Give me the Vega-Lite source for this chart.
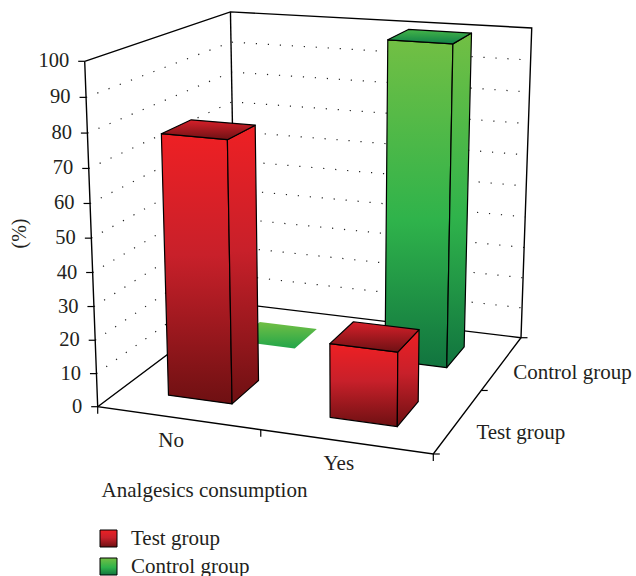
{
  "$schema": "https://vega.github.io/schema/vega-lite/v6.json",
  "width": 636,
  "height": 576,
  "padding": 0,
  "autosize": {"type": "none"},
  "background": "white",
  "config": {"view": {"stroke": null}, "text": {"font": "Liberation Serif", "fontSize": 21, "color": "#231f20"}},
  "datasets": {
    "bars": [
      {"category": "No", "group": "Test group", "value": 78},
      {"category": "No", "group": "Control group", "value": 0},
      {"category": "Yes", "group": "Test group", "value": 22},
      {"category": "Yes", "group": "Control group", "value": 100}
    ],
    "walls": [
      {"path": "outer", "seq": 0, "u": 0, "v": 0, "pct": 100},
      {"path": "outer", "seq": 1, "u": 0, "v": 0, "pct": 0},
      {"path": "outer", "seq": 2, "u": 1, "v": 0, "pct": 0},
      {"path": "outer", "seq": 3, "u": 1, "v": 1, "pct": 0},
      {"path": "outer", "seq": 4, "u": 1, "v": 1, "pct": 100},
      {"path": "outer", "seq": 5, "u": 0, "v": 1, "pct": 100},
      {"path": "outer", "seq": 6, "u": 0, "v": 0, "pct": 100},
      {"path": "floor", "seq": 0, "u": 0, "v": 0, "pct": 0},
      {"path": "floor", "seq": 1, "u": 0, "v": 1, "pct": 0},
      {"path": "floor", "seq": 2, "u": 1, "v": 1, "pct": 0},
      {"path": "corner", "seq": 0, "u": 0, "v": 1, "pct": 0},
      {"path": "corner", "seq": 1, "u": 0, "v": 1, "pct": 100}
    ],
    "ticks": [
      {"axis": "percent", "at": 0, "label": "0"},
      {"axis": "percent", "at": 10, "label": "10"},
      {"axis": "percent", "at": 20, "label": "20"},
      {"axis": "percent", "at": 30, "label": "30"},
      {"axis": "percent", "at": 40, "label": "40"},
      {"axis": "percent", "at": 50, "label": "50"},
      {"axis": "percent", "at": 60, "label": "60"},
      {"axis": "percent", "at": 70, "label": "70"},
      {"axis": "percent", "at": 80, "label": "80"},
      {"axis": "percent", "at": 90, "label": "90"},
      {"axis": "percent", "at": 100, "label": "100"},
      {"axis": "category", "at": 0},
      {"axis": "category", "at": 0.5},
      {"axis": "category", "at": 1},
      {"axis": "depth", "at": 0},
      {"axis": "depth", "at": 0.5},
      {"axis": "depth", "at": 1},
      {"axis": "categoryName", "at": 0.25, "label": "No"},
      {"axis": "categoryName", "at": 0.75, "label": "Yes"},
      {"axis": "depthName", "at": 0.25, "label": "Test group"},
      {"axis": "depthName", "at": 0.75, "label": "Control group"}
    ]
  },
  "encoding": {
    "x": {
      "field": "px", "type": "quantitative",
      "scale": {"domain": [0, 636], "nice": false, "zero": false},
      "axis": {
        "orient": "bottom", "title": "Analgesics consumption", "labels": false, "ticks": false, "domain": false, "grid": false,
        "titleFont": "Liberation Serif", "titleFontSize": 21, "titleFontWeight": "normal", "titleColor": "#231f20",
        "titleX": 204, "titleY": -86, "titleBaseline": "middle", "titleAlign": "center"
      }
    },
    "y": {
      "field": "py", "type": "quantitative",
      "scale": {"domain": [0, 576], "reverse": true, "nice": false, "zero": false},
      "axis": {
        "orient": "left", "title": "(%)", "labels": false, "ticks": false, "domain": false, "grid": false,
        "titleFont": "Liberation Serif", "titleFontSize": 20, "titleFontWeight": "normal", "titleColor": "#231f20",
        "titleAngle": 270, "titleX": 19, "titleY": 233, "titleBaseline": "middle", "titleAlign": "center"
      }
    }
  },
  "layer": [
    {
      "data": {"name": "ticks"},
      "transform": [
        {"filter": "datum.axis === 'percent' && datum.at > 0 && datum.at < 100"},
        {"calculate": "[0, 1, 2]", "as": "corner"},
        {"flatten": ["corner"]},
        {"calculate": "datum.corner === 2 ? 1 : 0", "as": "u"},
        {"calculate": "datum.corner === 0 ? 0 : 1", "as": "v"},
        {"calculate": "datum.at / 100", "as": "h"},
        {"calculate": "1 - 0.05492 * datum.u + 0.19277 * datum.v - 0.047 * datum.h", "as": "w"},
        {"calculate": "(97.7 + 311.8 * datum.u + 183.32 * datum.v - 16.98 * datum.h + 4.2 * datum.u * datum.v * datum.h) / datum.w", "as": "px"},
        {"calculate": "(406.7 + 22.37 * datum.u - 44.81 * datum.v - 348.28 * datum.h - 5.5 * datum.u * datum.v * datum.h) / datum.w", "as": "py"}
      ],
      "mark": {"type": "line", "stroke": "#222222", "strokeWidth": 1.2, "strokeDash": [1.2, 10.8]},
      "encoding": {"detail": {"field": "at"}, "order": {"field": "corner"}}
    },
    {
      "data": {"name": "walls"},
      "transform": [
        {"calculate": "datum.pct / 100", "as": "h"},
        {"calculate": "1 - 0.05492 * datum.u + 0.19277 * datum.v - 0.047 * datum.h", "as": "w"},
        {"calculate": "(97.7 + 311.8 * datum.u + 183.32 * datum.v - 16.98 * datum.h + 4.2 * datum.u * datum.v * datum.h) / datum.w", "as": "px"},
        {"calculate": "(406.7 + 22.37 * datum.u - 44.81 * datum.v - 348.28 * datum.h - 5.5 * datum.u * datum.v * datum.h) / datum.w", "as": "py"}
      ],
      "mark": {"type": "line", "stroke": "#000000", "strokeWidth": 1.4},
      "encoding": {"detail": {"field": "path"}, "order": {"field": "seq"}}
    },
    {
      "data": {"name": "ticks"},
      "transform": [
        {"calculate": "datum.axis === 'percent' ? 0 : datum.axis === 'category' || datum.axis === 'categoryName' ? datum.at : 1", "as": "u"},
        {"calculate": "datum.axis === 'depth' || datum.axis === 'depthName' ? datum.at : 0", "as": "v"},
        {"calculate": "datum.axis === 'percent' ? datum.at / 100 : 0", "as": "h"},
        {"calculate": "1 - 0.05492 * datum.u + 0.19277 * datum.v - 0.047 * datum.h", "as": "w"},
        {"calculate": "(97.7 + 311.8 * datum.u + 183.32 * datum.v - 16.98 * datum.h + 4.2 * datum.u * datum.v * datum.h) / datum.w", "as": "px"},
        {"calculate": "(406.7 + 22.37 * datum.u - 44.81 * datum.v - 348.28 * datum.h - 5.5 * datum.u * datum.v * datum.h) / datum.w", "as": "py"},
        {"calculate": "datum.px + (datum.axis === 'percent' ? -6.5 : datum.axis === 'depth' ? 6.5 : 0)", "as": "px2"},
        {"calculate": "datum.py + (datum.axis === 'category' ? 7 : 0)", "as": "py2"}
      ],
      "layer": [
        {
          "transform": [{"filter": "datum.axis === 'percent' || datum.axis === 'category' || datum.axis === 'depth'"}],
          "mark": {"type": "rule", "stroke": "#000000", "strokeWidth": 1.2},
          "encoding": {"x2": {"field": "px2"}, "y2": {"field": "py2"}}
        },
        {
          "transform": [{"filter": "datum.axis === 'percent'"}],
          "mark": {"type": "text", "align": "right", "baseline": "middle", "dx": -15.5, "fontSize": 20.5},
          "encoding": {"text": {"field": "label"}}
        },
        {
          "transform": [{"filter": "datum.axis === 'categoryName'"}],
          "mark": {"type": "text", "align": "center", "baseline": "middle", "dx": -7, "dy": 22.5},
          "encoding": {"text": {"field": "label"}}
        },
        {
          "transform": [{"filter": "datum.label === 'Test group'"}],
          "mark": {"type": "text", "align": "left", "baseline": "middle", "dx": 18, "dy": 12.6},
          "encoding": {"text": {"field": "label"}}
        },
        {
          "transform": [{"filter": "datum.label === 'Control group'"}],
          "mark": {"type": "text", "align": "left", "baseline": "middle", "dx": 11.3, "dy": 9.8},
          "encoding": {"text": {"field": "label"}}
        }
      ]
    },
    {
      "data": {"name": "bars"},
      "transform": [
        {"calculate": "datum.category === 'No' ? 0 : 1", "as": "i"},
        {"calculate": "datum.group === 'Test group' ? 0 : 1", "as": "j"},
        {"calculate": "['front', 'side', 'top']", "as": "face"},
        {"flatten": ["face"]},
        {"calculate": "[0, 1, 2, 3]", "as": "corner"},
        {"flatten": ["corner"]},
        {"calculate": "(datum.i + 0.3) / 2", "as": "u0"},
        {"calculate": "(datum.i + 0.7) / 2", "as": "u1"},
        {"calculate": "(datum.j + 0.3) / 2", "as": "v0"},
        {"calculate": "(datum.j + 0.7) / 2", "as": "v1"},
        {"calculate": "datum.face === 'side' || datum.corner === 1 || datum.corner === 2 ? datum.u1 : datum.u0", "as": "u"},
        {"calculate": "datum.face === 'front' ? datum.v0 : datum.face === 'side' ? (datum.corner === 1 || datum.corner === 2 ? datum.v1 : datum.v0) : (datum.corner >= 2 ? datum.v1 : datum.v0)", "as": "v"},
        {"calculate": "datum.face === 'top' || datum.corner >= 2 ? datum.value / 100 : 0", "as": "h"},
        {"calculate": "1 - 0.05492 * datum.u + 0.19277 * datum.v - 0.047 * datum.h", "as": "w"},
        {"calculate": "(97.7 + 311.8 * datum.u + 183.32 * datum.v - 16.98 * datum.h + 4.2 * datum.u * datum.v * datum.h) / datum.w", "as": "px"},
        {"calculate": "(406.7 + 22.37 * datum.u - 44.81 * datum.v - 348.28 * datum.h - 5.5 * datum.u * datum.v * datum.h) / datum.w", "as": "py"},
        {"calculate": "datum.category + ' ' + datum.group + ' ' + datum.face", "as": "faceId"}
      ],
      "layer": [
        {
          "transform": [{"filter": "datum.group === 'Control group' && datum.value === 0 && datum.face === 'top'"}],
          "mark": {
            "type": "line", "interpolate": "linear-closed", "strokeWidth": 0,
            "fill": {"gradient": "linear", "x1": 0, "y1": 0, "x2": 0, "y2": 1, "stops": [{"offset": 0, "color": "#72bf44"}, {"offset": 1, "color": "#22a64a"}]}
          },
          "encoding": {"detail": {"field": "faceId"}, "order": {"field": "corner"}}
        },
        {
          "transform": [{"filter": "datum.group === 'Control group' && datum.value > 0 && datum.face !== 'top'"}],
          "mark": {"type": "line", "interpolate": "linear-closed", "stroke": "#000000", "strokeWidth": 1.2, "strokeJoin": "round"},
          "encoding": {
            "detail": {"field": "faceId"}, "order": {"field": "corner"},
            "fill": {
              "field": "group", "type": "nominal",
              "scale": {
                "domain": ["Test group", "Control group"],
                "range": [
                  {"expr": "{gradient: 'linear', x1: 0, y1: 0, x2: 0, y2: 1, stops: [{offset: 0, color: '#ee2024'}, {offset: 0.45, color: '#c8202a'}, {offset: 1, color: '#6e1012'}]}"},
                  {"expr": "{gradient: 'linear', x1: 0, y1: 0, x2: 0, y2: 1, stops: [{offset: 0, color: '#72bf44'}, {offset: 0.55, color: '#2fb34b'}, {offset: 1, color: '#11743f'}]}"}
                ]
              },
              "legend": {
                "orient": "none", "legendX": 98, "legendY": 528, "title": null, "symbolType": "square", "symbolSize": 289,
                "symbolStrokeColor": "#000000", "symbolStrokeWidth": 1, "symbolOpacity": 1,
                "labelFont": "Liberation Serif", "labelFontSize": 21, "labelColor": "#231f20", "labelOffset": 12, "rowPadding": 6, "labelLimit": 200
              }
            }
          }
        },
        {
          "transform": [{"filter": "datum.group === 'Control group' && datum.value > 0 && datum.face === 'top'"}],
          "mark": {
            "type": "line", "interpolate": "linear-closed", "stroke": "#000000", "strokeWidth": 1.2, "strokeJoin": "round",
            "fill": {"gradient": "linear", "x1": 0, "y1": 0, "x2": 0, "y2": 1, "stops": [{"offset": 0, "color": "#46b649"}, {"offset": 1, "color": "#0f7f47"}]}
          },
          "encoding": {"detail": {"field": "faceId"}, "order": {"field": "corner"}}
        },
        {
          "transform": [{"filter": "datum.group === 'Test group' && datum.face !== 'top'"}],
          "mark": {"type": "line", "interpolate": "linear-closed", "stroke": "#000000", "strokeWidth": 1.2, "strokeJoin": "round"},
          "encoding": {
            "detail": {"field": "faceId"}, "order": {"field": "corner"},
            "fill": {"field": "group", "type": "nominal"}
          }
        },
        {
          "transform": [{"filter": "datum.group === 'Test group' && datum.face === 'top'"}],
          "mark": {
            "type": "line", "interpolate": "linear-closed", "stroke": "#000000", "strokeWidth": 1.2, "strokeJoin": "round",
            "fill": {"gradient": "linear", "x1": 0, "y1": 0, "x2": 0, "y2": 1, "stops": [{"offset": 0, "color": "#d8202a"}, {"offset": 1, "color": "#6e1114"}]}
          },
          "encoding": {"detail": {"field": "faceId"}, "order": {"field": "corner"}}
        }
      ]
    }
  ]
}
